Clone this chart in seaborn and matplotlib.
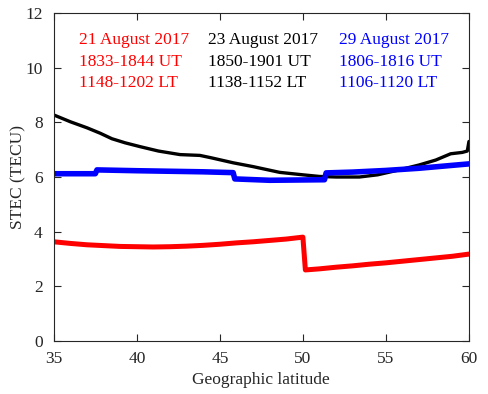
import matplotlib
matplotlib.use("Agg")
from matplotlib import pyplot as plt
import pandas as pd
import numpy as np
import seaborn as sns

# 21 August 2017 (red)
lat_21 = [35, 36, 37, 38, 39, 40, 41, 42, 43, 44, 45, 46, 47, 48, 49, 50.0, 50.15, 51, 52, 53, 54, 55, 56, 57, 58, 59, 60]
stec_21 = [3.63, 3.57, 3.52, 3.49, 3.46, 3.45, 3.44, 3.45, 3.47, 3.5, 3.54, 3.59, 3.63, 3.68, 3.73, 3.8, 2.6,
           2.64, 2.7, 2.75, 2.81, 2.86, 2.92, 2.98, 3.04, 3.1, 3.18]

# 23 August 2017 (black)
lat_23 = [35, 36, 37, 37.8, 38.5, 39.3, 40.2, 41.3, 42.6, 43.8, 44.5, 45.8, 47, 48.6, 50, 51, 52, 53.4, 54.5, 55.8, 57, 58, 58.9, 59.6, 59.9, 60]
stec_23 = [8.27, 8.02, 7.8, 7.6, 7.4, 7.25, 7.11, 6.95, 6.82, 6.79, 6.7, 6.52, 6.38, 6.17, 6.08, 6.02, 6.0, 6.0, 6.08, 6.26, 6.44, 6.62, 6.85, 6.9, 6.95, 7.3]

# 29 August 2017 (blue)
lat_29 = [35, 37.5, 37.6, 40, 42, 44, 45.8, 45.9, 48, 51.3, 51.4, 53, 55, 57, 60]
stec_29 = [6.12, 6.12, 6.26, 6.23, 6.21, 6.19, 6.16, 5.93, 5.88, 5.9, 6.15, 6.18, 6.24, 6.32, 6.48]

labels = [
    ("21 August 2017", "1833-1844 UT", "1148-1202 LT"),
    ("23 August 2017", "1850-1901 UT", "1138-1152 LT"),
    ("29 August 2017", "1806-1816 UT", "1106-1120 LT"),
]
colors = ["#ff0000", "#000000", "#0000ff"]

sns.set_style("ticks")
plt.rcParams["font.family"] = ["Liberation Serif", "DejaVu Serif"]

fig = plt.figure(figsize=(4.89, 3.94), dpi=100)
ax = fig.add_axes([0.110, 0.1345, 0.849, 0.8325])

sns.lineplot(x=lat_21, y=stec_21, ax=ax, color=colors[0], lw=3.6, estimator=None)
sns.lineplot(x=lat_23, y=stec_23, ax=ax, color=colors[1], lw=2.4, estimator=None)
sns.lineplot(x=lat_29, y=stec_29, ax=ax, color=colors[2], lw=4.0, estimator=None)

ax.set_xlim(35, 60)
ax.set_ylim(0, 12)
ax.set_xticks(np.arange(35, 61, 5))
ax.set_yticks(np.arange(0, 13, 2))
ax.tick_params(direction="in", top=True, right=True, labelsize=12.5, length=5, width=0.8)
ax.tick_params(axis="x", pad=7)
ax.tick_params(axis="y", pad=8)
for s in ax.spines.values():
    s.set_linewidth(0.8)
ax.set_xlabel("Geographic latitude", fontsize=12.5, labelpad=4)
ax.set_ylabel("STEC (TECU)", fontsize=12.5, labelpad=-1)

xs = [0.060, 0.371, 0.687]
ys = [0.918, 0.851, 0.787]
for i, (lines, c) in enumerate(zip(labels, colors)):
    for j, t in enumerate(lines):
        ax.text(xs[i], ys[j], t, color=c, fontsize=12.5, transform=ax.transAxes, va="center")

fig.savefig("out.png", dpi=100)
